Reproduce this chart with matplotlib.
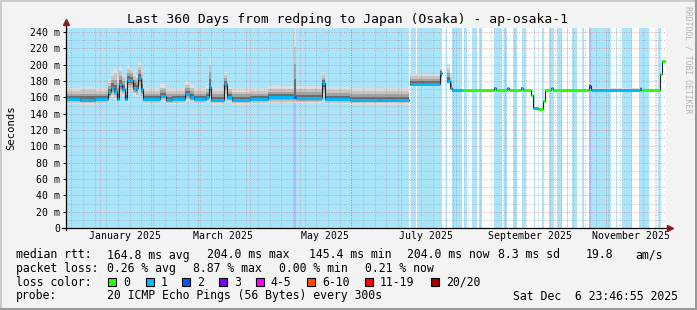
import numpy as np
import matplotlib
matplotlib.use('Agg')
import matplotlib.pyplot as plt
from matplotlib.patches import Rectangle
from matplotlib.lines import Line2D

plt.rcParams['font.family'] = ['DejaVu Sans Mono']

# ---- time frame -------------------------------------------------------
END = np.datetime64('2025-12-06T23:46:55')
SPAN_DAYS = 360
START = END - np.timedelta64(SPAN_DAYS * 86400, 's')

# ---- median rtt as step segments (days since START) --------------------
seg_start = [0, 8.3, 17.3, 25.1, 26.9, 28.7, 30.5, 31.7, 33.5, 35.3,
             36.5, 38.3, 40.1, 41.9, 43.1, 44.9, 46.1, 56.3, 59.9, 63.5,
             71.3, 74.3, 76.7, 83.9, 85.7, 86.9, 94.7, 96.5, 99.5, 110.3,
             121.1, 136.7, 137.9, 153.5, 155.3, 170.2, 188.2, 205.8, 206.5, 224.2,
             225.4, 228.4, 230.2, 231.4, 237.4, 256.6, 257.8, 264.4, 265.6, 272.8,
             274.0, 278.8, 280.3, 283.0, 286.0, 287.2, 290.8, 292.0, 313.6, 314.8,
             344.2, 345.1, 356.2, 357.4]
median = [158, 157, 158, 166, 172, 168, 158, 176, 170, 158,
          181, 181, 172, 171, 184, 170, 158, 162, 157, 158,
          164, 160, 158, 160, 173, 157, 177, 160, 157, 158,
          160, 160, 159, 178, 158, 157, 157, np.nan, 177, 190,
          np.nan, 180, 172, 169, 169, 172, 169, 171, 169, 172,
          169, 163, 147, 145.5, 156, 169, 171, 169, 174, 169,
          171, 169, 189, 204]
smoke_lo = [152, 151, 152, 156, 160, 158, 154, 163, 162, 155,
            168, 168, 162, 160, 170, 158, 152, 155, 152, 152,
            156, 154, 152, 154, 158, 151, 160, 154, 151, 152,
            153, 153, 153, 160, 152, 151, 151, np.nan, 174, 176,
            np.nan, 176, 170, 169, 169, 171, 169, 170, 169, 171,
            169, 163, 147, 145.5, 156, 169, 170, 169, 172, 168,
            170, 169, 189, 204]
smoke_hi = [172, 173, 172, 182, 192, 196, 186, 198, 190, 176,
            200, 196, 192, 188, 203, 196, 172, 176, 172, 172,
            180, 176, 172, 174, 210, 172, 191, 174, 171, 172,
            174, 245, 174, 191, 173, 172, 172, np.nan, 189, 197,
            np.nan, 201, 190, 170, 169, 173, 169, 172, 169, 173,
            169, 163, 147, 145.5, 156, 169, 172, 169, 178, 171,
            172, 169, 189, 204]
seg_loss = [1, 1, 1, 1, 1, 1, 1, 1, 1, 1,
            1, 1, 1, 1, 1, 1, 1, 1, 1, 1,
            1, 1, 1, 1, 1, 1, 1, 1, 1, 1,
            1, 2, 1, 1, 1, 1, 1, 0, 1, 1,
            0, 1, 1, 1, 0, 1, 0, 1, 0, 1,
            0, 0, 1, 0, 0, 0, 1, 0, 2, 1,
            1, 0, 0, 0]

# ---- loss background bands (days since START) -------------------------
band_start = [0, 136.8, 137.9, 206.8, 210.4, 227.7, 231.3, 238.6, 243.2, 247.6,
              256.6, 262.6, 267.8, 273.2, 280.8, 285.2, 289.8, 294.2, 300.2, 303.6,
              309.6, 313.8, 314.6, 329.6, 333.2, 343.6, 355.2]
band_end = [136.8, 137.9, 205.8, 209.7, 225.3, 228.3, 237.3, 240.4, 246.3, 249.4,
            261.2, 264.2, 270.2, 275.6, 281.4, 286.6, 292.6, 297.6, 301.2, 306.2,
            310.8, 314.6, 326.6, 330.2, 339.6, 349.6, 356.6]
band_level = [1, 2, 1, 1, 1, 1, 1, 1, 1, 1,
              1, 1, 1, 1, 1, 1, 1, 1, 1, 1,
              1, 2, 1, 1, 1, 1, 1]

# ---- legend / labels --------------------------------------------------
loss_names = ['0', '1', '2', '3', '4-5', '6-10', '11-19', '20/20']
loss_colors = ['#26ff00', '#00b8ff', '#0059ff', '#7e00ff', '#ff00ff',
               '#ff5000', '#ff0000', '#a10000']
band_colors = {1: '#a9e4fb', 2: '#aabdfd'}

y_ticks = [0, 20, 40, 60, 80, 100, 120, 140, 160, 180, 200, 220, 240]
y_labels = ['0', '20 m', '40 m', '60 m', '80 m', '100 m', '120 m', '140 m',
            '160 m', '180 m', '200 m', '220 m', '240 m']
x_label_months = ['2025-01', '2025-03', '2025-05', '2025-07', '2025-09', '2025-11']
x_labels = ['January 2025', 'March 2025', 'May 2025', 'July 2025',
            'September 2025', 'November 2025']

rtt_stats = ['164.8 ms avg', '204.0 ms max', '145.4 ms min', '204.0 ms now',
             '8.3 ms sd', '19.8', 'am/s']
loss_stats = ['0.26 % avg', '8.87 % max', '0.00 % min', '0.21 % now']
probe_text = '20 ICMP Echo Pings (56 Bytes) every 300s'
stamp_text = 'Sat Dec  6 23:46:55 2025'
title = 'Last 360 Days from redping to Japan (Osaka) - ap-osaka-1'

W, H = 697, 310


def to_days(d):
    return (np.datetime64(d, 's') - START) / np.timedelta64(1, 'D')


def fx(px):
    return px / W


def fy(py):
    return 1 - py / H


def steps(values):
    "Segment start/end pairs so that NaN gaps stay open"
    ends = seg_start[1:] + [SPAN_DAYS]
    xs = np.ravel(np.column_stack([seg_start, ends]))
    ys = np.repeat(np.asarray(values, dtype=float), 2)
    return xs, ys


fig = plt.figure(figsize=(W / 100, H / 100), dpi=100)
fig.patch.set_facecolor('#f3f3f3')
ax = fig.add_axes([fx(66.2), 82 / H, 600 / W, 200 / H])
ax.set_facecolor('white')
ax.set_xlim(0, SPAN_DAYS)
ax.set_ylim(0, 245)

# loss bands
for s, e, lvl in zip(band_start, band_end, band_level):
    ax.axvspan(s, e, color=band_colors[lvl], lw=0, zorder=0.5)

# smoke
xs, med = steps(median)
_, lo = steps(smoke_lo)
_, hi = steps(smoke_hi)
for frac, col in [(1.0, '#dedede'), (0.72, '#c4c4c4'), (0.48, '#a2a2a2'),
                  (0.26, '#6c6c6c')]:
    ax.fill_between(xs, med - frac * (med - lo), med + frac * (hi - med),
                    color=col, lw=0, zorder=1)

# grid
grid_kw = dict(lw=0.6, linestyle=(0, (1.2, 1.8)), zorder=1.5)
weeks = np.arange(np.datetime64('2024-12-15'), END.astype('datetime64[D]'),
                  np.timedelta64(7, 'D'))
for w in weeks:
    ax.axvline(to_days(w), color='#888888', alpha=0.55, **grid_kw)
months = np.arange(np.datetime64('2025-01'), np.datetime64('2026-01'))
for m in months:
    ax.axvline(to_days(m.astype('datetime64[D]')), color='#e05050', alpha=0.55, **grid_kw)
for v in range(10, 245, 20):
    ax.axhline(v, color='#888888', alpha=0.55, **grid_kw)
for v in y_ticks[1:]:
    ax.axhline(v, color='#e05050', alpha=0.55, **grid_kw)

# median line: dark step line plus loss coloured bars
ax.plot(xs, med, color='#202020', lw=0.8, zorder=3)
ax.hlines(median, seg_start, seg_start[1:] + [SPAN_DAYS],
          colors=[loss_colors[l] for l in seg_loss], lw=2.1, zorder=4)

# axes
for side in ['top', 'right', 'left', 'bottom']:
    ax.spines[side].set_visible(False)
ax.add_line(Line2D([0, 0], [-0.01, 1.025], transform=ax.transAxes,
                   color='black', lw=0.9, clip_on=False, zorder=5))
ax.add_line(Line2D([-0.007, 1.003], [0, 0], transform=ax.transAxes,
                   color='black', lw=0.9, clip_on=False, zorder=5))
ax.plot([0], [1.03], marker='^', ms=4, color='#8b1a1a', transform=ax.transAxes,
        clip_on=False, zorder=6)
ax.plot([1.006], [0], marker='>', ms=4, color='#8b1a1a', transform=ax.transAxes,
        clip_on=False, zorder=6)

ax.set_yticks(y_ticks)
ax.set_yticklabels(y_labels)
ax.tick_params(axis='y', length=2.5, width=0.7, pad=2, labelsize=7.1)
ax.set_xticks([to_days(m) + 15 for m in x_label_months])
ax.set_xticklabels(x_labels)
ax.tick_params(axis='x', length=0, pad=2.5, labelsize=7.1)

# texts
fig.text(fx(347.5), fy(19), title, ha='center', va='center', fontsize=9.4)
fig.text(fx(11), fy(128), 'Seconds', rotation=90, ha='center', va='center',
         fontsize=7.6)
fig.text(fx(688), fy(60), 'RRDTOOL / TOBI OETIKER', rotation=270,
         ha='center', va='center', fontsize=5.9, color='#b4b4b4')

fs = 8.3
rows = [255, 268.5, 282.3, 296]
fig.text(fx(16), fy(rows[0]), 'median rtt:', va='center', fontsize=fs)
for x, s in zip([107, 207, 309, 407, 498, 586, 635], rtt_stats):
    fig.text(fx(x), fy(rows[0]), s, va='center', fontsize=fs)
fig.text(fx(16), fy(rows[1]), 'packet loss:', va='center', fontsize=fs)
for x, s in zip([107, 193, 279, 365], loss_stats):
    fig.text(fx(x), fy(rows[1]), s, va='center', fontsize=fs)
fig.text(fx(16), fy(rows[2]), 'loss color:', va='center', fontsize=fs)
box_x = [108.3, 145.7, 182.3, 219, 255.7, 307.3, 365, 430.7]
for x, name, col in zip(box_x, loss_names, loss_colors):
    fig.add_artist(Rectangle((fx(x), fy(286)), 8 / W, 8.3 / H,
                             transform=fig.transFigure, fc=col, ec='black', lw=0.8))
    fig.text(fx(x + 15), fy(rows[2]), name, va='center', fontsize=fs)
fig.text(fx(16), fy(rows[3]), 'probe:', va='center', fontsize=fs)
fig.text(fx(107), fy(rows[3]), probe_text, va='center', fontsize=fs)
fig.text(fx(513), fy(rows[3]), stamp_text, va='center', fontsize=fs)

# frame shading
fig.add_artist(Line2D([0, 1], [fy(0.7), fy(0.7)], transform=fig.transFigure,
                      color='#cbcbcb', lw=1.4))
fig.add_artist(Line2D([fx(0.7), fx(0.7)], [0, 1], transform=fig.transFigure,
                      color='#cbcbcb', lw=1.4))
fig.add_artist(Line2D([fx(695.5), fx(695.5)], [0, 1], transform=fig.transFigure,
                      color='#999999', lw=2.2))
fig.add_artist(Line2D([0, 1], [fy(308.5), fy(308.5)], transform=fig.transFigure,
                      color='#999999', lw=2.2))

fig.savefig('out.png', dpi=100, facecolor=fig.get_facecolor())
